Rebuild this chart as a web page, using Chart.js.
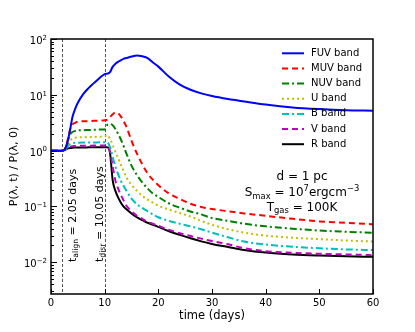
<!DOCTYPE html>
<html>
<head>
<meta charset="utf-8">
<script src="https://cdn.jsdelivr.net/npm/chart.js@4.4.1/dist/chart.umd.min.js"></script>
<style>
  html, body { margin: 0; padding: 0; background: #fff; }
  #wrap { width: 415px; height: 332px; }
</style>
</head>
<body>
<div id="wrap"><canvas id="lc"></canvas></div>
<script>
const FONT = '"DejaVu Sans", sans-serif';

// time grid (days)
const days = [0, 2.05, 2.5, 3, 3.5, 4, 4.5, 5, 6, 7, 8, 9, 10, 10.5, 11, 11.5, 12, 12.5, 13, 13.5, 14,
              15, 16, 17, 18, 19, 20, 22, 24, 26, 28, 30, 33, 36, 40, 45, 50, 55, 60];

// P(lambda, t) / P(lambda, 0) per band
const fuv = [1, 1, 1.03, 1.35, 2.2, 4.0, 5.6, 7.2, 10.3, 13.2, 16.2, 19.8, 23.5, 24, 25.5, 32, 36, 39, 41.5, 44, 45.5,
             48.5, 50.8, 49, 45.5, 37.8, 32, 21, 15.2, 12.3, 10.6, 9.5, 8.4, 7.6, 6.7, 5.95, 5.55, 5.3, 5.2];
const muv = [1, 1, 1.05, 1.4, 2.3, 2.95, 3.15, 3.3, 3.35, 3.38, 3.42, 3.45, 3.5, 3.6, 4.0, 4.5, 4.8, 4.7, 4.1, 3.4, 2.75,
             1.5, 0.89, 0.57, 0.39, 0.3, 0.24, 0.17, 0.136, 0.112, 0.098, 0.09, 0.082, 0.075, 0.068, 0.06, 0.054, 0.051, 0.048];
const nuv = [1, 1, 1.04, 1.3, 1.9, 2.15, 2.25, 2.3, 2.32, 2.34, 2.36, 2.38, 2.4, 2.9, 3.0, 2.85, 2.45, 2.0, 1.6, 1.23, 0.91,
             0.54, 0.365, 0.27, 0.21, 0.17, 0.148, 0.113, 0.095, 0.081, 0.072, 0.062, 0.055, 0.049, 0.044, 0.040, 0.037, 0.0352, 0.0337];
const uBand = [1, 1, 1.03, 1.25, 1.5, 1.65, 1.7, 1.72, 1.74, 1.75, 1.76, 1.78, 1.8, 1.9, 1.62, 1.25, 0.95, 0.74, 0.56, 0.44, 0.34,
               0.245, 0.19, 0.155, 0.132, 0.117, 0.103, 0.088, 0.076, 0.066, 0.055, 0.047, 0.039, 0.034, 0.030, 0.0275, 0.026, 0.0245, 0.0235];
const bBand = [1, 1, 1.02, 1.15, 1.3, 1.36, 1.38, 1.39, 1.4, 1.4, 1.4, 1.41, 1.41, 1.4, 1.15, 0.76, 0.52, 0.38, 0.29, 0.235, 0.195,
               0.138, 0.11, 0.094, 0.082, 0.072, 0.064, 0.055, 0.049, 0.044, 0.039, 0.034, 0.028, 0.0235, 0.0208, 0.019, 0.0178, 0.017, 0.0165];
const vBand = [1, 1, 1.02, 1.1, 1.17, 1.2, 1.21, 1.22, 1.22, 1.22, 1.23, 1.23, 1.23, 1.23, 0.95, 0.52, 0.29, 0.21, 0.162, 0.13, 0.105,
               0.082, 0.068, 0.06, 0.053, 0.049, 0.045, 0.038, 0.033, 0.0295, 0.0265, 0.024, 0.021, 0.0178, 0.0158, 0.0148, 0.0142, 0.0138, 0.0134];
const rBand = [1, 1, 1.03, 1.08, 1.11, 1.13, 1.135, 1.14, 1.14, 1.145, 1.15, 1.15, 1.15, 1.15, 0.9, 0.29, 0.19, 0.145, 0.118, 0.1, 0.09,
               0.075, 0.064, 0.057, 0.051, 0.047, 0.043, 0.036, 0.031, 0.027, 0.0237, 0.0213, 0.0188, 0.0166, 0.0149, 0.0138, 0.0132, 0.0128, 0.0125];

const bandNames = ['FUV band', 'MUV band', 'NUV band', 'U band', 'B band', 'V band', 'R band'];
const bandValues = [fuv, muv, nuv, uBand, bBand, vBand, rBand];
const bandColors = ['#0000ff', '#ff0000', '#008000', '#bfbf00', '#00bfbf', '#bf00bf', '#000000'];
const bandDashes = [[], [6, 4], [7, 3, 2, 3], [2, 3], [7, 3, 2, 3], [6, 4], []];

const tAlign = 2.05;
const tDisr = 10.05;
const yMin = 0.0027, yMax = 100;
const yPowers = [-3, -2, -1, 0, 1, 2];

// text with sub/superscripts: parts = [[text, kind]], kind 'n' | 'sub' | 'sup'
function richWidth(ctx, parts, size) {
  let w = 0;
  for (const [t, k] of parts) {
    ctx.font = (k === 'n' ? size : size * 0.7) + 'px ' + FONT;
    w += ctx.measureText(t).width;
  }
  return w;
}
function drawRich(ctx, parts, x, y, size) {
  ctx.textBaseline = 'alphabetic';
  ctx.textAlign = 'left';
  for (const [t, k] of parts) {
    ctx.font = (k === 'n' ? size : size * 0.7) + 'px ' + FONT;
    const dy = k === 'sub' ? size * 0.22 : (k === 'sup' ? -size * 0.42 : 0);
    ctx.fillText(t, x, y + dy);
    x += ctx.measureText(t).width;
  }
}

const decor = {
  id: 'decor',
  beforeDatasetsDraw(chart) {
    const {ctx, chartArea: a, scales: {x}} = chart;
    ctx.save();
    ctx.strokeStyle = '#555';
    ctx.lineWidth = 1;
    ctx.setLineDash([3, 2]);
    for (const t of [tAlign, tDisr]) {
      const px = Math.round(x.getPixelForValue(t)) + 0.5;
      ctx.beginPath();
      ctx.moveTo(px, a.top);
      ctx.lineTo(px, a.bottom);
      ctx.stroke();
    }
    ctx.restore();
  },
  afterDatasetsDraw(chart) {
    const {ctx, chartArea: a, scales: {x, y}} = chart;
    ctx.save();
    ctx.fillStyle = '#000';
    ctx.strokeStyle = '#000';

    // ticks pointing inward
    ctx.lineWidth = 1;
    ctx.beginPath();
    for (const tk of y.ticks) {
      const py = Math.round(y.getPixelForValue(tk.value)) + 0.5;
      const major = Math.abs(Math.log10(tk.value) - Math.round(Math.log10(tk.value))) < 1e-6;
      ctx.moveTo(a.left, py);
      ctx.lineTo(a.left + (major ? 6 : 3), py);
    }
    for (const tk of x.ticks) {
      const px = Math.round(x.getPixelForValue(tk.value)) + 0.5;
      ctx.moveTo(px, a.bottom);
      ctx.lineTo(px, a.bottom - 5);
    }
    ctx.stroke();

    // y tick labels 10^n
    for (const p of yPowers) {
      const v = Math.pow(10, p);
      if (v < yMin || v > yMax) continue;
      const py = y.getPixelForValue(v);
      const parts = [['10', 'n'], [p < 0 ? '\u2212' + (-p) : String(p), 'sup']];
      const w = richWidth(ctx, parts, 10);
      drawRich(ctx, parts, a.left - 4 - w, py + 5, 10);
    }

    // frame
    ctx.lineWidth = 1.5;
    ctx.strokeRect(a.left, a.top, a.right - a.left, a.bottom - a.top);

    // rotated time markers
    const markers = [
      [tAlign, 13.5, [['t', 'n'], ['align', 'sub'], [' = 2.05 days', 'n']]],
      [tDisr, -2, [['t', 'n'], ['disr', 'sub'], [' = 10.05 days', 'n']]]
    ];
    for (const [t, off, parts] of markers) {
      ctx.save();
      ctx.translate(x.getPixelForValue(t) + off, 262);
      ctx.rotate(-Math.PI / 2);
      drawRich(ctx, parts, 0, 0, 11);
      ctx.restore();
    }

    // parameter block
    const cx = a.right - 71;
    const lines = [
      [[['d = 1 pc', 'n']], a.top + 141],
      [[['S', 'n'], ['max', 'sub'], [' = 10', 'n'], ['7', 'sup'], ['ergcm', 'n'], ['\u22123', 'sup']], a.top + 157],
      [[['T', 'n'], ['gas', 'sub'], [' = 100K', 'n']], a.top + 171.5]
    ];
    for (const [parts, by] of lines) {
      const w = richWidth(ctx, parts, 12);
      drawRich(ctx, parts, cx - w / 2, by, 12);
    }

    // legend
    chart.data.datasets.forEach((ds, i) => {
      const ly = a.top + 14.3 + i * 15.15;
      ctx.save();
      ctx.strokeStyle = ds.borderColor;
      ctx.lineWidth = ds.borderWidth;
      ctx.setLineDash(ds.borderDash);
      ctx.beginPath();
      ctx.moveTo(a.right - 91, ly);
      ctx.lineTo(a.right - 69, ly);
      ctx.stroke();
      ctx.restore();
      ctx.font = '10px ' + FONT;
      ctx.textBaseline = 'middle';
      ctx.textAlign = 'left';
      ctx.fillText(ds.label, a.right - 62, ly);
    });
    ctx.restore();
  }
};

const datasets = bandNames.map((name, i) => ({
  label: name,
  data: days.map((d, j) => ({x: d, y: bandValues[i][j]})),
  borderColor: bandColors[i],
  borderWidth: 2,
  borderDash: bandDashes[i],
  pointRadius: 0,
  fill: false,
  cubicInterpolationMode: 'monotone'
}));

new Chart(document.getElementById('lc'), {
  type: 'line',
  data: {datasets},
  options: {
    responsive: true,
    maintainAspectRatio: false,
    animation: false,
    devicePixelRatio: 1,
    layout: {padding: {top: 39, right: 42, left: 0, bottom: 0}},
    plugins: {legend: {display: false}, tooltip: {enabled: false}},
    scales: {
      x: {
        type: 'linear',
        min: 0,
        max: 60,
        ticks: {stepSize: 10, color: '#000', padding: 3, maxRotation: 0, font: {family: FONT, size: 10}},
        grid: {display: false, drawTicks: false},
        border: {display: false},
        title: {display: true, text: 'time (days)', color: '#000', font: {family: FONT, size: 11.5}, padding: {top: 0, bottom: 9}},
        afterFit: s => { s.height = 38; }
      },
      y: {
        type: 'logarithmic',
        min: yMin,
        max: yMax,
        ticks: {display: false},
        grid: {display: false, drawTicks: false},
        border: {display: false},
        title: {display: true, text: 'P(\u03bb, t) / P(\u03bb, 0)', color: '#000', font: {family: FONT, size: 11}, padding: {top: 8, bottom: 0}},
        afterBuildTicks: s => {
          const t = [];
          for (const p of yPowers) {
            for (let m = 1; m <= 9; m++) {
              const v = m * Math.pow(10, p);
              if (v >= yMin && v <= yMax * 1.0001) t.push({value: v});
            }
          }
          s.ticks = t;
        },
        afterFit: s => { s.width = 51; }
      }
    }
  },
  plugins: [decor]
});
</script>
</body>
</html>
